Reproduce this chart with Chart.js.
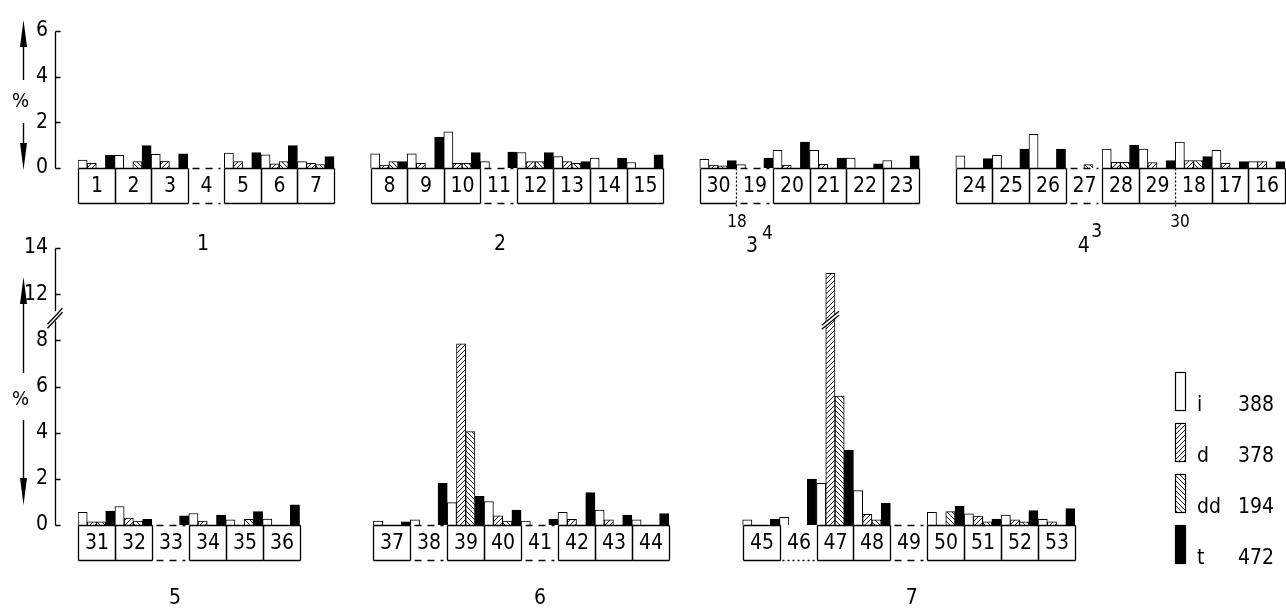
<!DOCTYPE html>
<html>
<head>
<meta charset="utf-8">
<script src="https://cdn.jsdelivr.net/npm/chart.js@4.4.0/dist/chart.umd.min.js"></script>
<style>
html, body { margin: 0; padding: 0; background: #fff; }
#wrap { position: relative; width: 1286px; height: 611px; }
canvas { position: absolute; left: 0; top: 0; }
</style>
</head>
<body>
<div id="wrap">
    <canvas id="topChart" width="1286" height="611"></canvas>
    <canvas id="bottomChart" width="1286" height="611"></canvas>
</div>
<script>
// ---- data (values in %) ----
// '' = empty slot between groups
const topSlots = ['1', '2', '3', '4', '5', '6', '7', '',
    '8', '9', '10', '11', '12', '13', '14', '15', '',
    '30', '19', '20', '21', '22', '23', '',
    '24', '25', '26', '27', '28', '29', '18', '17', '16'];
const topI  = [0.35, 0.55, 0.6, 0, 0.65, 0.58, 0.28, null, 0.62, 0.62, 1.58, 0.28, 0.68, 0.5, 0.43, 0.24, null, 0.38, 0.15, 0.77, 0.77, 0.43, 0.33, null, 0.53, 0.56, 1.47, 0, 0.83, 0.83, 1.13, 0.77, 0.28];
const topD  = [0.2, 0, 0.3, 0, 0.28, 0.18, 0.2, null, 0.13, 0.2, 0.2, 0, 0.28, 0.28, 0, 0, null, 0.13, 0, 0.13, 0.16, 0, 0, null, 0, 0, 0, 0, 0.25, 0.24, 0.33, 0.2, 0.28];
const topDD = [0, 0.28, 0, 0, 0, 0.28, 0.15, null, 0.28, 0, 0.2, 0, 0.28, 0.2, 0, 0, null, 0.1, 0, 0, 0, 0, 0, null, 0, 0, 0, 0.15, 0.25, 0, 0.33, 0, 0];
const topT  = [0.55, 0.98, 0.62, 0, 0.68, 0.98, 0.5, null, 0.28, 1.35, 0.68, 0.7, 0.68, 0.28, 0.43, 0.58, null, 0.33, 0.43, 1.14, 0.43, 0.18, 0.53, null, 0.41, 0.83, 0.83, 0, 1.0, 0.33, 0.5, 0.28, 0.28];

const bottomSlots = ['31', '32', '33', '34', '35', '36', '', '',
    '37', '38', '39', '40', '41', '42', '43', '44', '', '',
    '45', '46', '47', '48', '49', '50', '51', '52', '53'];
const bottomI  = [0.55, 0.8, 0, 0.5, 0.22, 0.26, null, null, 0.17, 0.22, 0.97, 1.02, 0.17, 0.55, 0.65, 0.22, null, null, 0.22, 0.33, 1.8, 1.49, 0, 0.55, 0.48, 0.43, 0.25];
const bottomD  = [0.14, 0.3, 0, 0.17, 0, 0, null, null, 0, 0, 7.85, 0.4, 0, 0.25, 0.22, 0, null, null, 0, 0, 12.9, 0.46, 0, 0, 0.39, 0.22, 0.14];
const bottomDD = [0.14, 0.17, 0, 0, 0.25, 0, null, null, 0, 0, 4.05, 0.17, 0, 0, 0, 0, null, null, 0, 0, 5.58, 0.22, 0, 0.58, 0.14, 0.14, 0];
const bottomT  = [0.6, 0.25, 0.4, 0.43, 0.58, 0.87, null, null, 0.14, 1.8, 1.24, 0.65, 0.25, 1.4, 0.43, 0.5, null, null, 0.25, 1.99, 3.25, 0.94, 0, 0.82, 0.26, 0.62, 0.71];

const seriesNames = ['i', 'd', 'dd', 't'];
const seriesTotals = [388, 378, 194, 472];

const topTickLabels = [0, 2, 4, 6];
const bottomTickLabels = [0, 2, 4, 6, 8, 12, 14];

const dashedSlots = ['4', '11', '19', '27', '33', '38', '41', '49'];
const dottedSlots = ['46'];

// broken axis in lower row: 10..12 is cut out
const CUT_FROM = 8, CUT_SIZE = 2;
const toDisplay = v => (v == null ? null : v > CUT_FROM + CUT_SIZE ? v - CUT_SIZE : v);
const toLabel = v => (v > CUT_FROM ? v + CUT_SIZE : v);

const FONT = '"DejaVu Sans Condensed", "Liberation Sans Narrow", "DejaVu Sans", sans-serif';
Chart.defaults.font.family = FONT;
Chart.defaults.color = '#000';

function makeHatch(ctx, dir) {
    const s = 5;
    const c = document.createElement('canvas');
    c.width = s; c.height = s;
    const g = c.getContext('2d');
    g.fillStyle = '#fff';
    g.fillRect(0, 0, s, s);
    g.strokeStyle = '#000';
    g.lineWidth = 0.9;
    g.beginPath();
    if (dir > 0) {
        g.moveTo(-1, s + 1); g.lineTo(s + 1, -1);
        g.moveTo(-1, 1); g.lineTo(1, -1);
        g.moveTo(s - 1, s + 1); g.lineTo(s + 1, s - 1);
    } else {
        g.moveTo(-1, -1); g.lineTo(s + 1, s + 1);
        g.moveTo(-1, s - 1); g.lineTo(1, s + 1);
        g.moveTo(s - 1, -1); g.lineTo(s + 1, 1);
    }
    g.stroke();
    return ctx.createPattern(c, 'repeat');
}

// numbered boxes under the baseline + group captions
const slotPlugin = {
    id: 'slots',
    afterDatasetsDraw(chart, args, o) {
        const ctx = chart.ctx, xs = chart.scales.x, ys = chart.scales.y;
        const base = Math.round(ys.getPixelForValue(0)) + 0.5;
        const w = xs.getPixelForValue(1) - xs.getPixelForValue(0);
        const edge = i => Math.round(xs.getPixelForValue(0) + (i - 0.5) * w) + 0.5;
        const h = o.boxHeight;
        const dotEdges = o.dottedEdges || [];

        ctx.save();
        ctx.strokeStyle = '#000';
        ctx.fillStyle = '#000';
        ctx.lineWidth = 1.3;
        const line = (x1, y1, x2, y2, dash) => {
            ctx.setLineDash(dash || []);
            ctx.beginPath(); ctx.moveTo(x1, y1); ctx.lineTo(x2, y2); ctx.stroke();
        };

        o.slots.forEach((name, i) => {
            if (!name) return;
            const l = edge(i), r = edge(i + 1);
            if (dashedSlots.includes(name)) {
                line(l + 4, base, r - 4, base, [7, 6]);
                line(l + 4, base + h, r - 4, base + h, [7, 6]);
            } else if (dottedSlots.includes(name)) {
                line(l + 2, base + h, r - 2, base + h, [2, 3]);
            } else {
                line(l, base, r, base);
                line(l, base + h, r, base + h);
                if (!dotEdges.includes(i)) line(l, base, l, base + h);
                if (!dotEdges.includes(i + 1)) line(r, base, r, base + h);
            }
            ctx.setLineDash([]);
            ctx.font = o.fontSize + 'px ' + FONT;
            ctx.textAlign = 'center';
            ctx.textBaseline = 'middle';
            ctx.fillText(name, (l + r) / 2, base + h / 2 + 1);
        });
        dotEdges.forEach(e => line(edge(e), base, edge(e), base + h + 4, [2, 2]));
        ctx.setLineDash([]);

        o.captions.forEach(c => {
            ctx.font = c.size + 'px ' + FONT;
            ctx.textAlign = 'center';
            ctx.textBaseline = 'middle';
            ctx.fillText(c.text, xs.getPixelForValue(0) + c.at * w, base + c.dy);
        });
        ctx.restore();
    }
};

// y axis line with ticks, % sign and arrows
const axisPlugin = {
    id: 'yaxis',
    afterDraw(chart, args, o) {
        const ctx = chart.ctx, ys = chart.scales.y;
        const ax = Math.round(chart.chartArea.left - o.gap) + 0.5;
        const px = ys.ticks.map(t => Math.round(ys.getPixelForValue(t.value)) + 0.5);
        ctx.save();
        ctx.strokeStyle = '#000';
        ctx.fillStyle = '#000';
        ctx.lineWidth = 1.3;
        ctx.beginPath();
        ctx.moveTo(ax, Math.min(...px));
        ctx.lineTo(ax, Math.max(...px));
        px.forEach(p => { ctx.moveTo(ax, p); ctx.lineTo(ax + 5, p); });
        ctx.stroke();

        if (o.cutAt != null) {
            const yc = ys.getPixelForValue(o.cutAt);
            ctx.fillStyle = '#fff';
            ctx.fillRect(ax - 3, yc - 6, 6, 10);
            ctx.beginPath();
            ctx.moveTo(ax - 8, yc + 7); ctx.lineTo(ax + 7, yc - 9);
            ctx.moveTo(ax - 8, yc + 11); ctx.lineTo(ax + 7, yc - 5);
            ctx.stroke();
            ctx.fillStyle = '#000';
        }

        const arX = ax - o.arrowDx;
        const [upTip, upEnd, pct, dnStart, dnTip] = o.arrow.map(v => ys.getPixelForValue(v));
        ctx.lineWidth = 1.4;
        ctx.beginPath();
        ctx.moveTo(arX, upTip + 20); ctx.lineTo(arX, upEnd);
        ctx.moveTo(arX, dnStart); ctx.lineTo(arX, dnTip - 20);
        ctx.stroke();
        ctx.beginPath();
        ctx.moveTo(arX, upTip); ctx.lineTo(arX - 3.5, upTip + 27); ctx.lineTo(arX + 3.5, upTip + 27); ctx.closePath();
        ctx.moveTo(arX, dnTip); ctx.lineTo(arX - 3.5, dnTip - 27); ctx.lineTo(arX + 3.5, dnTip - 27); ctx.closePath();
        ctx.fill();
        ctx.font = '20px ' + FONT;
        ctx.textAlign = 'center';
        ctx.textBaseline = 'middle';
        ctx.fillText('%', arX - 3, pct);
        ctx.restore();
    }
};

// break mark on bars that run past the cut
const barCutPlugin = {
    id: 'barCut',
    afterDatasetsDraw(chart, args, o) {
        if (!o.enabled) return;
        const ctx = chart.ctx, ys = chart.scales.y;
        const yc = ys.getPixelForValue(CUT_FROM + 1);
        ctx.save();
        ctx.strokeStyle = '#000';
        ctx.lineWidth = 1.3;
        chart.data.datasets.forEach((ds, k) => {
            chart.getDatasetMeta(k).data.forEach((bar, i) => {
                const raw = o.source[k][i];
                if (raw == null || raw <= CUT_FROM + CUT_SIZE) return;
                const l = bar.x - bar.width / 2, r = bar.x + bar.width / 2;
                ctx.fillStyle = '#fff';
                ctx.beginPath();
                ctx.moveTo(l - 4, yc + 8); ctx.lineTo(r + 4, yc - 6);
                ctx.lineTo(r + 4, yc - 2); ctx.lineTo(l - 4, yc + 12);
                ctx.closePath(); ctx.fill();
                ctx.beginPath();
                ctx.moveTo(l - 4, yc + 8); ctx.lineTo(r + 4, yc - 6);
                ctx.moveTo(l - 4, yc + 12); ctx.lineTo(r + 4, yc - 2);
                ctx.stroke();
            });
        });
        ctx.restore();
    }
};

const legendPlugin = {
    id: 'sideLegend',
    afterDraw(chart, args, o) {
        if (!o.enabled) return;
        const ctx = chart.ctx;
        const base = chart.scales.y.getPixelForValue(0);
        ctx.save();
        ctx.strokeStyle = '#000';
        ctx.lineWidth = 1.2;
        ctx.font = '21px ' + FONT;
        ctx.textBaseline = 'alphabetic';
        ctx.textAlign = 'left';
        chart.data.datasets.forEach((ds, k) => {
            const bottom = Math.round(base + o.firstBottom + k * o.step) + 0.5;
            ctx.fillStyle = ds.backgroundColor;
            ctx.fillRect(o.x, bottom - o.h, o.w, o.h);
            ctx.strokeRect(o.x + 0.5, bottom - o.h, o.w, o.h);
            ctx.fillStyle = '#000';
            ctx.fillText(ds.label, o.x + 22, bottom);
            ctx.fillText(String(seriesTotals[k]), o.x + 63, bottom);
        });
        ctx.restore();
    }
};

function buildChart(id, slots, series, cfg) {
    const canvas = document.getElementById(id);
    const ctx = canvas.getContext('2d');
    const fills = ['#fff', makeHatch(ctx, 1), makeHatch(ctx, -1), '#000'];
    const tickValues = cfg.tickLabels.map(cfg.labelToValue);

    return new Chart(ctx, {
        type: 'bar',
        data: {
            labels: slots,
            datasets: series.map((vals, k) => ({
                label: seriesNames[k],
                data: vals.map(cfg.valueToDisplay),
                backgroundColor: fills[k],
                borderColor: '#000',
                borderWidth: 1,
                borderSkipped: 'bottom',
                categoryPercentage: 1,
                barPercentage: 1
            }))
        },
        options: {
            responsive: false,
            animation: false,
            devicePixelRatio: 1,
            layout: { padding: cfg.padding },
            scales: {
                x: { display: false, offset: true, grid: { display: false } },
                y: {
                    min: 0,
                    max: Math.max(...tickValues),
                    afterFit: s => { s.width = cfg.axisWidth; s.paddingTop = 0; s.paddingBottom = 0; },
                    afterBuildTicks: s => { s.ticks = tickValues.map(v => ({ value: v })); },
                    ticks: {
                        padding: 30,
                        color: '#000',
                        font: { size: 21, family: FONT },
                        callback: v => String(cfg.valueToLabel(v))
                    },
                    grid: { display: false, drawTicks: false },
                    border: { display: false }
                }
            },
            plugins: {
                legend: { display: false },
                tooltip: { enabled: false },
                slots: {
                    slots: slots,
                    boxHeight: 35,
                    fontSize: 21,
                    dottedEdges: cfg.dottedEdges,
                    captions: cfg.captions
                },
                yaxis: { gap: 23, arrowDx: 32, arrow: cfg.arrow, cutAt: cfg.cutAt },
                barCut: { enabled: !!cfg.cutAt, source: series },
                sideLegend: cfg.legend || { enabled: false }
            }
        },
        plugins: [slotPlugin, axisPlugin, barCutPlugin, legendPlugin]
    });
}

const topChart = buildChart('topChart', topSlots, [topI, topD, topDD, topT], {
    tickLabels: topTickLabels,
    labelToValue: v => v,
    valueToDisplay: v => v,
    valueToLabel: v => v,
    axisWidth: 78,
    padding: { top: 31, bottom: 443, left: 0, right: 1 },
    dottedEdges: [18, 30],
    arrow: [6.48, 3.85, 2.9, 1.97, -0.09],
    cutAt: null,
    captions: [
        { text: '1', at: 2.92, dy: 76, size: 21 },
        { text: '2', at: 11.04, dy: 76, size: 21 },
        { text: '18', at: 17.52, dy: 54, size: 17 },
        { text: '3', at: 17.93, dy: 78, size: 21 },
        { text: '4', at: 18.35, dy: 66, size: 19 },
        { text: '30', at: 29.63, dy: 54, size: 17 },
        { text: '4', at: 27.0, dy: 78, size: 21 },
        { text: '3', at: 27.35, dy: 64, size: 19 }
    ]
});

const bottomChart = buildChart('bottomChart', bottomSlots, [bottomI, bottomD, bottomDD, bottomT], {
    tickLabels: bottomTickLabels,
    labelToValue: v => (v > CUT_FROM ? v - CUT_SIZE : v),
    valueToDisplay: toDisplay,
    valueToLabel: toLabel,
    axisWidth: 78,
    padding: { top: 248, bottom: 86, left: 0, right: 211 },
    dottedEdges: [],
    arrow: [10.74, 6.58, 5.41, 4.55, 0.87],
    cutAt: CUT_FROM + 1,
    captions: [
        { text: '5', at: 2.13, dy: 73, size: 21 },
        { text: '6', at: 12.01, dy: 73, size: 21 },
        { text: '7', at: 22.08, dy: 73, size: 21 }
    ],
    legend: { enabled: true, x: 1175, w: 10, h: 38, firstBottom: -115, step: 51 }
});
</script>
</body>
</html>
